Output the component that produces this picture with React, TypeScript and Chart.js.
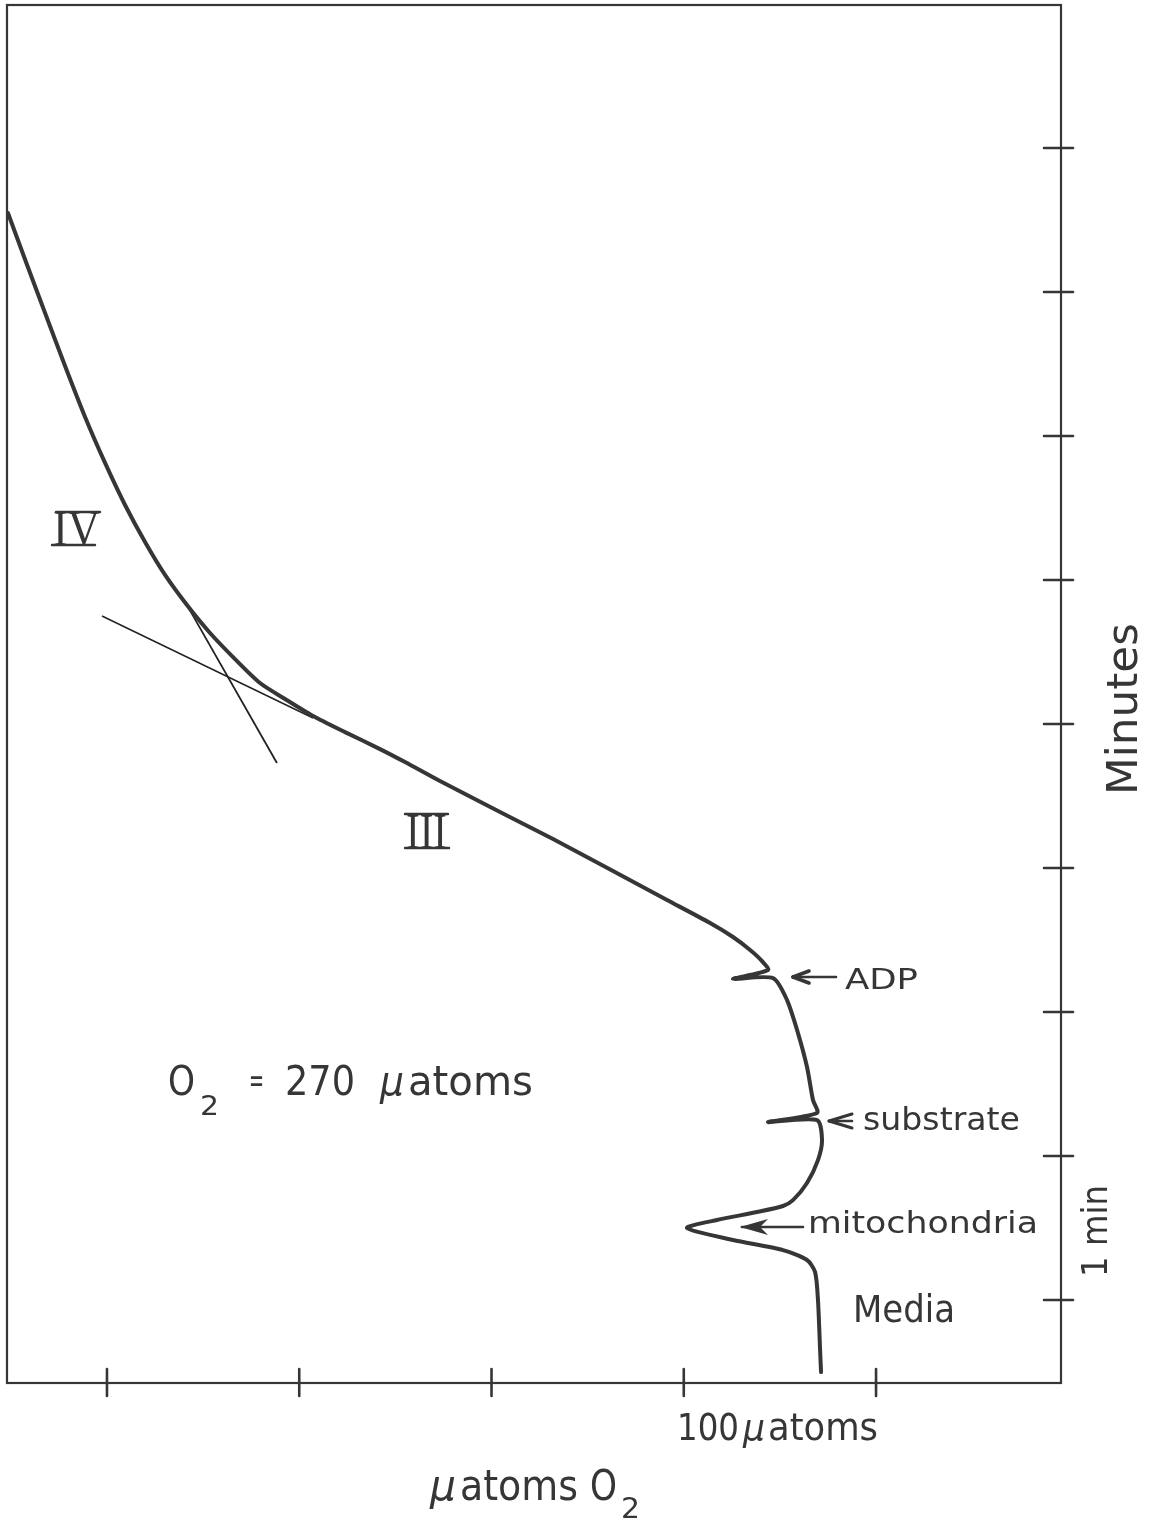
import React, { useEffect, useRef } from "react";
import { Chart, registerables } from "chart.js";

Chart.register(...registerables);

// x: μatoms O2 (tick every 100), y: minutes (tick every minute)
const X_TICKS = [0, 100, 200, 300, 400];
const Y_TICKS = [0, 1, 2, 3, 4, 5, 6, 7, 8];

const TRACE_X = [
  -51.5, -42.7, -32.2, -21.8, -11.4, -1.0, 9.4, 19.8, 30.2, 41.6, 53.6, 66.6, 79.6, 92.6,
  107.2, 123.8, 142.0, 155.0, 173.2, 204.4, 232.0, 263.2, 291.3, 313.7, 325.6, 334.5, 340.7,
  343.8, 325.6, 346.4, 353.7, 359.4, 364.1, 367.2, 369.3, 343.8, 369.3, 371.9, 369.8,
  364.1, 356.8, 351.6, 338.1, 317.3, 301.7, 325.6, 351.6, 364.1, 368.3, 369.8, 370.9, 371.4,
];
const TRACE_Y = [
  7.549, 7.229, 6.854, 6.486, 6.132, 5.813, 5.521, 5.264, 5.035, 4.826, 4.632, 4.451, 4.285, 4.174,
  4.056, 3.944, 3.826, 3.736, 3.604, 3.389, 3.201, 2.979, 2.778, 2.618, 2.521, 2.431, 2.354,
  2.292, 2.229, 2.236, 2.083, 1.854, 1.618, 1.389, 1.299, 1.236, 1.25, 1.111, 0.972,
  0.813, 0.694, 0.653, 0.611, 0.556, 0.5, 0.417, 0.347, 0.278, 0.194, 0.0, -0.347, -0.5,
];

// tangent to state IV
const STATE4_X = [41.6, 88.4];
const STATE4_Y = [4.826, 3.729];
// extrapolated state III
const STATE3_X = [-2.6, 107.2];
const STATE3_Y = [4.75, 4.042];

const INK = "#363636";
const FONT = "DejaVu Sans";

function toPoints(xs: number[], ys: number[]) {
  return xs.map((x, i) => ({ x, y: ys[i] }));
}

function fitText(
  ctx: CanvasRenderingContext2D,
  text: string,
  x: number,
  y: number,
  size: number,
  width: number,
  family = FONT,
  rot = 0,
  style = ""
) {
  ctx.save();
  ctx.font = `${style ? style + " " : ""}${size}px "${family}"`;
  ctx.textAlign = "left";
  ctx.textBaseline = "alphabetic";
  const w = ctx.measureText(text).width;
  ctx.translate(x, y);
  if (rot) ctx.rotate(rot);
  ctx.scale(width / w, 1);
  ctx.fillText(text, 0, 0);
  ctx.restore();
}

function line(ctx: CanvasRenderingContext2D, x1: number, y1: number, x2: number, y2: number, w: number) {
  ctx.lineWidth = w;
  ctx.beginPath();
  ctx.moveTo(x1, y1);
  ctx.lineTo(x2, y2);
  ctx.stroke();
}

const framePlugin = {
  id: "frame",
  afterDraw(chart: any) {
    const { ctx, chartArea } = chart;
    const xs = chart.scales.x;
    const ys = chart.scales.y;
    const { left, right, top, bottom } = chartArea;
    ctx.save();
    ctx.strokeStyle = INK;
    ctx.fillStyle = INK;
    ctx.lineCap = "round";
    // frame
    ctx.lineWidth = 2.2;
    ctx.strokeRect(left, top, right - left, bottom - top);
    // bottom ticks (crossing)
    X_TICKS.forEach((v) => {
      const px = xs.getPixelForValue(v);
      line(ctx, px, bottom - 14, px, bottom + 13, 2.6);
    });
    // right ticks (crossing)
    Y_TICKS.forEach((v) => {
      const py = ys.getPixelForValue(v);
      line(ctx, right - 17, py, right + 12, py, 2.6);
    });

    // arrows
    // ADP
    line(ctx, 793, 977, 836, 977, 2.6);
    line(ctx, 793, 977, 809, 971, 3.6);
    line(ctx, 793, 977, 809, 983, 3.6);
    // substrate
    line(ctx, 829, 1121, 852, 1114, 3);
    line(ctx, 829, 1121, 852, 1128, 3);
    line(ctx, 836, 1121, 852, 1121, 2.6);
    // mitochondria
    line(ctx, 742, 1227, 803, 1227, 2.6);
    ctx.beginPath();
    ctx.moveTo(740, 1227);
    ctx.lineTo(768, 1219);
    ctx.lineTo(760, 1227);
    ctx.lineTo(768, 1235);
    ctx.closePath();
    ctx.fill();

    // texts
    fitText(ctx, "ADP", 845, 989, 29, 73);
    fitText(ctx, "substrate", 863, 1130, 32, 157);
    fitText(ctx, "mitochondria", 808, 1233, 30, 230);
    fitText(ctx, "Media", 853, 1322, 37, 102);
    fitText(ctx, "100", 677, 1440, 38, 62);
    fitText(ctx, "\u03bc", 743, 1440, 38, 22, FONT, 0, "oblique");
    fitText(ctx, "atoms", 768, 1440, 38, 110);

    // O2 = 270 μatoms
    fitText(ctx, "O", 168, 1095, 41, 27);
    fitText(ctx, "2", 200, 1115, 27, 19);
    fitText(ctx, "=", 249, 1092, 34, 15);
    fitText(ctx, "270", 285, 1095, 41, 70);
    fitText(ctx, "\u03bc", 380, 1095, 41, 24, FONT, 0, "oblique");
    fitText(ctx, "atoms", 408, 1095, 41, 125);

    // axis title
    fitText(ctx, "\u03bc", 430, 1500, 42, 26, FONT, 0, "oblique");
    fitText(ctx, "atoms", 460, 1500, 42, 118);
    fitText(ctx, "O", 590, 1500, 42, 27);
    fitText(ctx, "2", 621, 1518, 28, 19);

    // right-side labels (rotated)
    fitText(ctx, "Minutes", 1137, 795, 42, 172, FONT, -Math.PI / 2);
    fitText(ctx, "1 min", 1107, 1277, 36, 92, FONT, -Math.PI / 2);

    // phase labels (roman numerals with continuous bars)
    fitText(ctx, "IV", 53, 545, 50, 47, "Liberation Serif");
    line(ctx, 56, 512, 100, 512, 2.4);
    line(ctx, 52, 545, 95, 545, 2.4);
    fitText(ctx, "III", 406, 848, 50, 41, "Liberation Serif");
    line(ctx, 405, 814, 448, 814, 2.4);
    line(ctx, 405, 848, 449, 848, 2.4);

    ctx.restore();
  },
};

export default function App() {
  const ref = useRef<HTMLCanvasElement | null>(null);
  useEffect(() => {
    if (!ref.current) return;
    const chart = new Chart(ref.current, {
      type: "scatter",
      data: {
        datasets: [
          {
            label: "O2 trace",
            data: toPoints(TRACE_X, TRACE_Y),
            showLine: true,
            borderColor: INK,
            borderWidth: 4,
            pointRadius: 0,
            tension: 0.25,
            borderCapStyle: "round",
            borderJoinStyle: "round",
          },
          {
            label: "state IV",
            data: toPoints(STATE4_X, STATE4_Y),
            showLine: true,
            borderColor: "#222",
            borderWidth: 1.8,
            pointRadius: 0,
          },
          {
            label: "state III",
            data: toPoints(STATE3_X, STATE3_Y),
            showLine: true,
            borderColor: "#222",
            borderWidth: 1.5,
            pointRadius: 0,
          },
        ],
      },
      options: {
        responsive: false,
        animation: false,
        layout: { padding: { left: 7, top: 5, right: 92, bottom: 137 } },
        plugins: { legend: { display: false }, tooltip: { enabled: false } },
        scales: {
          x: { type: "linear", display: false, min: -52, max: 496.2 },
          y: { type: "linear", display: false, min: -0.576, max: 8.993 },
        },
      },
      plugins: [framePlugin],
    } as any);
    return () => chart.destroy();
  }, []);
  return (
    <div style={{ position: "absolute", left: 0, top: 0, width: 1153, height: 1520, background: "#fff" }}>
      <canvas ref={ref} width={1153} height={1520} style={{ display: "block", width: 1153, height: 1520 }} />
    </div>
  );
}
